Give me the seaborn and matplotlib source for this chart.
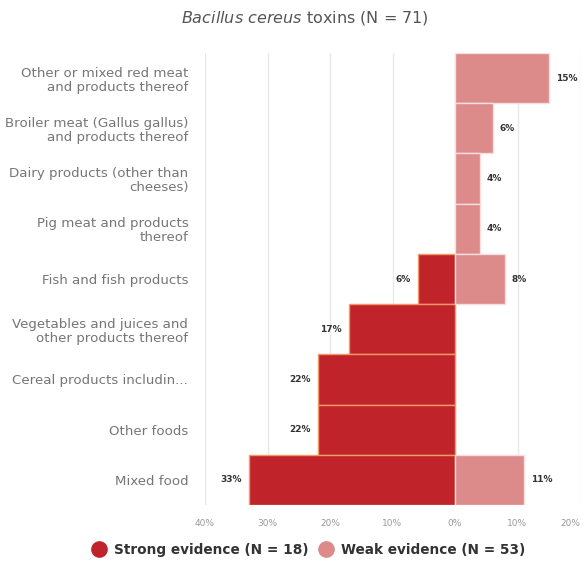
import numpy as np
import pandas as pd
import matplotlib
matplotlib.use("Agg")
import matplotlib.pyplot as plt
from matplotlib.lines import Line2D
import seaborn as sns

categories = [
    "Other or mixed red meat\nand products thereof",
    "Broiler meat (Gallus gallus)\nand products thereof",
    "Dairy products (other than\ncheeses)",
    "Pig meat and products\nthereof",
    "Fish and fish products",
    "Vegetables and juices and\nother products thereof",
    "Cereal products includin...",
    "Other foods",
    "Mixed food",
]
strong = [0, 0, 0, 0, 6, 17, 22, 22, 33]
weak = [15, 6, 4, 4, 8, 0, 0, 0, 11]
xticks = [-40, -30, -20, -10, 0, 10, 20]
xtick_labels = ["40%", "30%", "20%", "10%", "0%", "10%", "20%"]

strong_color = "#c1232b"
weak_color = "#dc8a8a"

sns.set_theme(style="white")
plt.rcParams['font.family'] = ['DejaVu Sans']

df = pd.DataFrame({
    "category": categories,
    "strong": [-v if v else np.nan for v in strong],
    "weak": [v if v else np.nan for v in weak],
})

fig = plt.figure(figsize=(5.83, 5.69), dpi=100)
ax = fig.add_axes([205 / 583, 1 - 505 / 569, 375 / 583, 452 / 569])

sns.barplot(data=df, y="category", x="strong", color=strong_color, saturation=1,
            width=1.0, orient="h", ax=ax, edgecolor="#f09a68", linewidth=1.0)
sns.barplot(data=df, y="category", x="weak", color=weak_color, saturation=1,
            width=1.0, orient="h", ax=ax, edgecolor="#f6dede", linewidth=1.0)

for i, (s, w) in enumerate(zip(strong, weak)):
    if s:
        ax.annotate(f"{s}%", (-s, i), xytext=(-5, 0), textcoords="offset points",
                    ha="right", va="center", fontsize=6.5, fontweight="bold",
                    color="#333333")
    if w:
        ax.annotate(f"{w}%", (w, i), xytext=(5, 0), textcoords="offset points",
                    ha="left", va="center", fontsize=6.5, fontweight="bold",
                    color="#333333")

ax.set_xlim(-40, 20)
ax.set_xticks(xticks)
ax.set_xticklabels(xtick_labels, fontsize=6.5, color="#9a9a9a")
ax.tick_params(axis="x", length=0, pad=10)
ax.tick_params(axis="y", length=0, pad=12)
for lbl in ax.get_yticklabels():
    lbl.set_fontsize(9.6)
    lbl.set_color("#767676")
    lbl.set_horizontalalignment("right")
    lbl.set_multialignment("right")
    lbl.set_linespacing(1.12)
ax.set_xlabel("")
ax.set_ylabel("")
ax.xaxis.grid(True, color="#e8e8e8", linewidth=1)
ax.set_axisbelow(True)
for sp in ax.spines.values():
    sp.set_visible(False)

tl = ax.get_xticklabels()
tl[-1].set_horizontalalignment("right")

fig.text(305 / 583, 1 - 18 / 569, r"$\it{Bacillus\ cereus}$ toxins (N = 71)",
         ha="center", va="center", fontsize=11.5, color="#555555")

handles = [
    Line2D([0], [0], marker="o", linestyle="", markersize=11,
           markerfacecolor=strong_color, markeredgecolor=strong_color),
    Line2D([0], [0], marker="o", linestyle="", markersize=11,
           markerfacecolor=weak_color, markeredgecolor=weak_color),
]
fig.legend(handles, ["Strong evidence (N = 18)", "Weak evidence (N = 53)"],
           loc="center", bbox_to_anchor=(305 / 583, 1 - 550 / 569), ncol=2,
           frameon=False, handletextpad=0.1, columnspacing=0.3,
           prop={"weight": "bold", "size": 9.8}, labelcolor="#333333")

fig.savefig("out.png", dpi=100)
